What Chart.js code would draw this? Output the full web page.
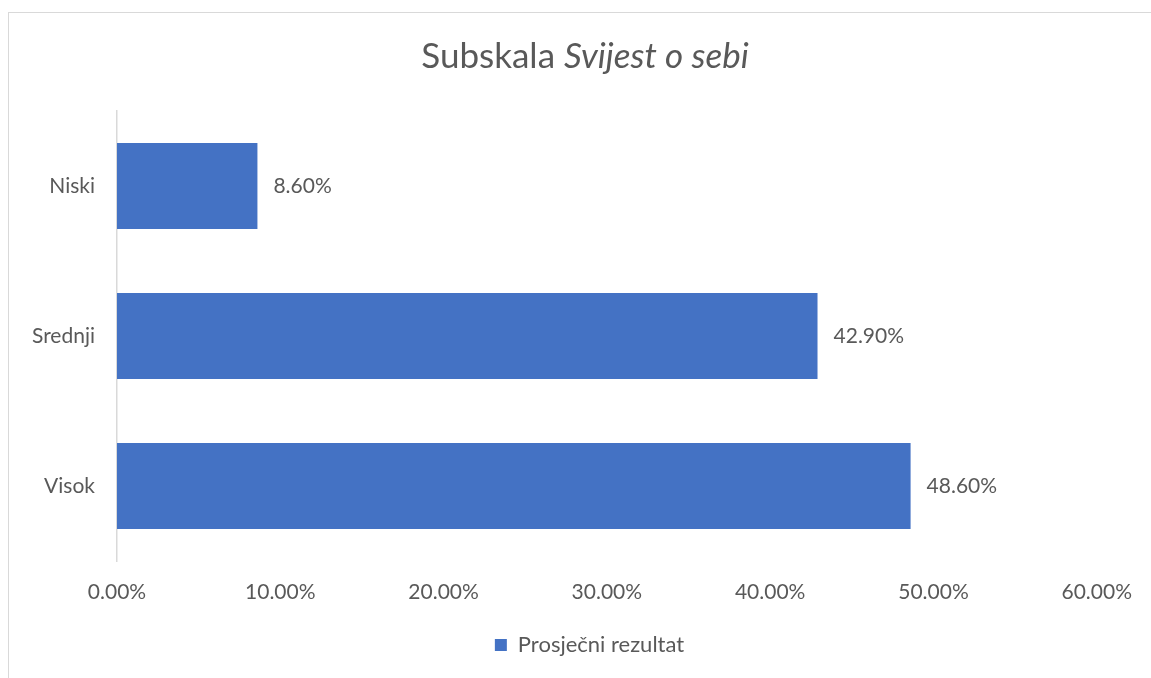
<!DOCTYPE html>
<html>
<head>
<meta charset="utf-8">
<script src="https://cdn.jsdelivr.net/npm/chart.js@4"></script>
<style>
  html, body { margin: 0; padding: 0; background: #fff; }
  #wrap { position: relative; width: 1151px; height: 678px; }
  #frame { position: absolute; left: 8px; top: 12px; width: 1160px; height: 700px; border: 1px solid #d9d9d9; box-sizing: border-box; }
  canvas { position: absolute; left: 0; top: 0; }
</style>
</head>
<body>
<div id="wrap">
  <div id="frame"></div>
  <canvas id="chart" width="1151" height="678"></canvas>
</div>
<script>
// data
const categories = ['Niski', 'Srednji', 'Visok'];
const values = [8.6, 42.9, 48.6];
const seriesName = 'Prosječni rezultat';
const titleRegular = 'Subskala ';
const titleItalic = 'Svijest o sebi';

const FONT = 'Lato, "Liberation Sans", sans-serif';
const TEXT = '#595959';

// title with mixed regular / italic text
const titlePlugin = {
  id: 'mixedTitle',
  afterDraw(chart) {
    const ctx = chart.ctx;
    ctx.save();
    ctx.fillStyle = TEXT;
    ctx.textBaseline = 'middle';
    ctx.font = '35px ' + FONT;
    const w1 = ctx.measureText(titleRegular).width;
    ctx.font = 'italic 35px ' + FONT;
    const w2 = ctx.measureText(titleItalic).width;
    const x = 585 - (w1 + w2) / 2;
    ctx.textAlign = 'left';
    ctx.font = '35px ' + FONT;
    ctx.fillText(titleRegular, x, 57);
    ctx.font = 'italic 35px ' + FONT;
    ctx.fillText(titleItalic, x + w1, 57);
    ctx.restore();
  }
};

// value labels at bar ends
const valueLabels = {
  id: 'valueLabels',
  afterDatasetsDraw(chart) {
    const ctx = chart.ctx;
    const meta = chart.getDatasetMeta(0);
    ctx.save();
    ctx.font = '21px ' + FONT;
    ctx.fillStyle = TEXT;
    ctx.textAlign = 'left';
    ctx.textBaseline = 'middle';
    meta.data.forEach((bar, i) => {
      ctx.fillText(values[i].toFixed(2) + '%', bar.x + 16, bar.y);
    });
    ctx.restore();
  }
};

// legend is centred on the whole frame, not the padded area
const legendShift = {
  id: 'legendShift',
  afterLayout(chart) {
    chart.legend.left += 41;
    chart.legend.right += 41;
  }
};

new Chart(document.getElementById('chart'), {
  type: 'bar',
  data: {
    labels: categories,
    datasets: [{
      label: seriesName,
      data: values,
      backgroundColor: '#4472C4',
      borderWidth: 0,
      categoryPercentage: 1,
      barPercentage: 0.573
    }]
  },
  options: {
    indexAxis: 'y',
    responsive: false,
    animation: false,
    layout: {
      padding: { top: 111, left: 0, right: 54, bottom: 12 }
    },
    plugins: {
      legend: {
        position: 'bottom',
        labels: {
          boxWidth: 12,
          boxHeight: 12,
          padding: 10,
          color: TEXT,
          font: { family: FONT, size: 22 }
        }
      },
      title: { display: false },
      tooltip: { enabled: false }
    },
    scales: {
      x: {
        min: 0,
        max: 60,
        ticks: {
          stepSize: 10,
          padding: 19,
          color: TEXT,
          font: { family: FONT, size: 21 },
          callback: v => v.toFixed(2) + '%'
        },
        grid: { display: false, drawTicks: false },
        border: { display: false },
        afterFit: s => { s.height = 63; }
      },
      y: {
        ticks: {
          padding: 22,
          color: TEXT,
          font: { family: FONT, size: 21 }
        },
        grid: { display: false, drawTicks: false },
        border: { display: true, color: '#d9d9d9', width: 1.5 },
        afterFit: s => { s.width = 117; }
      }
    }
  },
  plugins: [titlePlugin, valueLabels, legendShift]
});
</script>
</body>
</html>
